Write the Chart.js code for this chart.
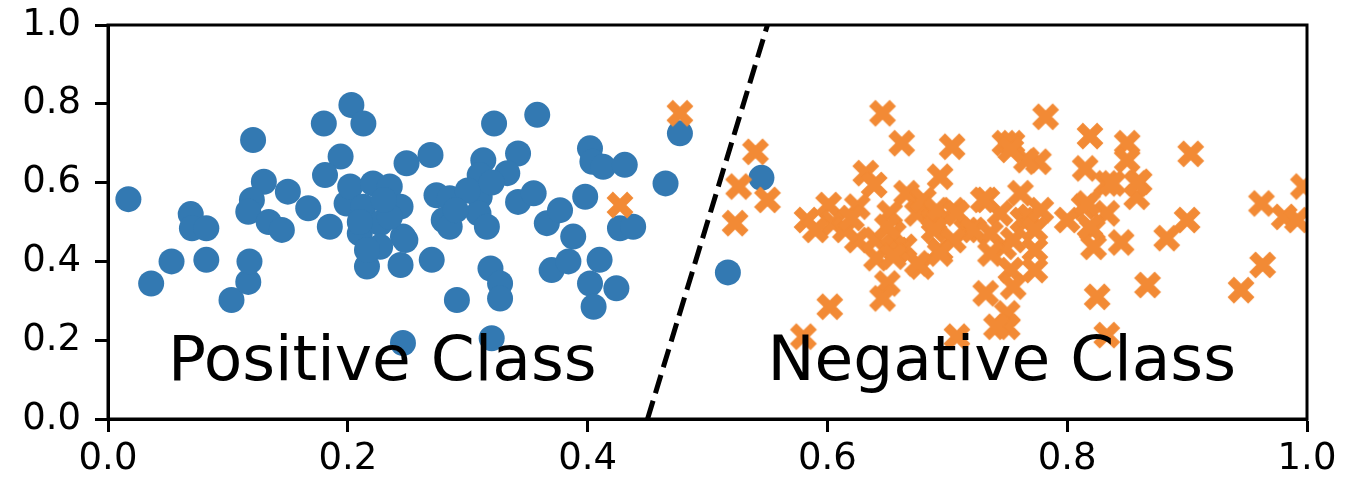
<!DOCTYPE html>
<html>
<head>
<meta charset="utf-8">
<script src="https://cdn.jsdelivr.net/npm/chart.js@4.4.1/dist/chart.umd.min.js"></script>
<style>
  body { margin: 0; background: #fff; }
  canvas { display: block; }
</style>
</head>
<body>
<canvas id="myChart" width="1362" height="480"></canvas>
<script>
// data
const positiveX = [0.017,0.036,0.053,0.069,0.070,0.082,0.082,0.103,0.117,0.118,0.121,0.130,0.120,0.117,0.134,0.145,0.150,0.167,0.185,0.180,0.203,0.213,0.194,0.181,0.216,0.244,0.199,0.246,
  0.202,0.221,0.235,0.244,0.213,0.210,0.227,0.246,0.227,0.216,0.235,0.210,0.230,0.249,0.269,0.270,
  0.322,0.358,0.342,0.313,0.310,0.333,0.402,0.404,0.413,0.431,0.465,0.477,0.398,0.427,0.438,0.248,0.274,0.285,0.280,0.285,0.310,0.309,0.316,
  0.342,0.355,0.366,0.377,0.388,0.370,0.384,0.410,0.402,0.424,0.405,0.319,0.327,0.327,0.291,0.320,0.300,0.320,0.290,0.517,0.545];
const positiveY = [0.558,0.344,0.400,0.520,0.484,0.484,0.404,0.302,0.348,0.400,0.708,0.602,0.556,0.526,0.500,0.480,0.577,0.535,0.488,0.750,0.797,0.750,0.666,0.619,0.387,0.391,0.547,0.193,
  0.590,0.598,0.590,0.539,0.539,0.471,0.497,0.463,0.437,0.429,0.513,0.500,0.556,0.649,0.670,0.404,
  0.750,0.772,0.674,0.657,0.619,0.624,0.687,0.653,0.640,0.645,0.598,0.725,0.564,0.484,0.488,0.454,0.568,0.560,0.505,0.488,0.564,0.522,0.488,
  0.551,0.573,0.497,0.530,0.463,0.378,0.400,0.404,0.344,0.332,0.285,0.382,0.344,0.306,0.302,0.205,0.580,0.600,0.530,0.372,0.612];

const negativeX = [0.477,0.427,0.540,0.526,0.550,0.523,
  0.646,0.662,0.704,0.632,0.639,0.694,0.583,0.601,0.605,0.625,0.625,0.641,0.650,0.646,0.602,0.580,0.666,0.675,0.689,0.664,0.678,0.694,0.705,0.716,0.733,0.744,0.747,0.732,0.708,0.748,
  0.782,0.754,0.776,0.819,0.815,0.850,0.850,0.903,0.833,0.860,0.858,0.833,0.814,0.800,0.821,0.822,0.845,0.900,0.883,0.962,0.981,0.992,0.997,0.963,0.945,0.867,0.825,0.833,0.750,0.750,0.763,
  0.652,0.680,0.691,0.708,0.722,0.689,0.705,0.694,0.675,0.658,0.730,0.761,0.769,0.736,0.755,0.736,0.753,0.755,0.741,0.766,0.753,
  0.838,0.858,0.817,0.778,0.773,0.773,0.773,0.819,0.590,0.615,0.640,0.655,0.620,0.650,0.655];
const negativeY = [0.776,0.543,0.678,0.590,0.556,0.497,
  0.776,0.700,0.691,0.624,0.594,0.615,0.505,0.543,0.497,0.539,0.454,0.408,0.344,0.306,0.285,0.209,0.573,0.522,0.505,0.437,0.387,0.429,0.530,0.480,0.556,0.522,0.437,0.319,0.209,0.700,
  0.767,0.700,0.653,0.718,0.636,0.700,0.657,0.673,0.598,0.602,0.564,0.522,0.539,0.505,0.480,0.437,0.448,0.505,0.459,0.547,0.513,0.505,0.590,0.391,0.327,0.340,0.310,0.213,0.268,0.234,0.505,
  0.522,0.556,0.530,0.522,0.480,0.480,0.454,0.420,0.395,0.429,0.556,0.573,0.513,0.471,0.454,0.420,0.378,0.336,0.234,0.657,0.683,
  0.598,0.598,0.547,0.530,0.480,0.429,0.378,0.488,0.480,0.480,0.455,0.470,0.510,0.488,0.412];

const boundaryX = [0.45, 0.55];
const boundaryY = [0.0, 1.0];

const tickValues = [0, 0.2, 0.4, 0.6, 0.8, 1.0];
const classLabels = ['Positive Class', 'Negative Class'];
const classLabelX = [0.05, 0.55];
const classLabelY = [0.1, 0.1];

const blue = '#3379b2';
const orange = '#f28a35';
const font = '"DejaVu Sans", sans-serif';

function toPoints(xs, ys) {
  return xs.map((x, i) => ({ x: x, y: ys[i] }));
}

// filled X marker like matplotlib
function makeCross(color) {
  const c = document.createElement('canvas');
  c.width = 30;
  c.height = 30;
  const g = c.getContext('2d');
  g.strokeStyle = color;
  g.lineWidth = 9;
  g.lineCap = 'butt';
  const a = 10.3;
  g.beginPath();
  g.moveTo(15 - a, 15 - a); g.lineTo(15 + a, 15 + a);
  g.moveTo(15 + a, 15 - a); g.lineTo(15 - a, 15 + a);
  g.stroke();
  return c;
}

const framePlugin = {
  id: 'frame',
  afterDatasetsDraw(chart) {
    const ctx = chart.ctx;
    const area = chart.chartArea;
    const xs = chart.scales.x;
    const ys = chart.scales.y;
    ctx.save();
    ctx.fillStyle = '#000';
    ctx.font = '63px ' + font;
    ctx.textAlign = 'left';
    ctx.textBaseline = 'alphabetic';
    classLabels.forEach((t, i) => {
      ctx.fillText(t, xs.getPixelForValue(classLabelX[i]), ys.getPixelForValue(classLabelY[i]));
    });
    ctx.strokeStyle = '#000';
    ctx.lineWidth = 3;
    ctx.strokeRect(area.left, area.top, area.right - area.left, area.bottom - area.top);
    ctx.restore();
  }
};

const ctx = document.getElementById('myChart');

new Chart(ctx, {
  type: 'scatter',
  data: {
    datasets: [
      {
        type: 'line',
        data: toPoints(boundaryX, boundaryY),
        borderColor: '#000',
        borderWidth: 5,
        borderDash: [19, 8],
        pointRadius: 0,
        fill: false,
        order: 0
      },
      {
        data: toPoints(negativeX, negativeY),
        pointStyle: makeCross(orange),
        pointRadius: 14,
        backgroundColor: orange,
        borderWidth: 0,
        order: 1
      },
      {
        data: toPoints(positiveX, positiveY),
        pointStyle: 'circle',
        pointRadius: 13,
        backgroundColor: blue,
        borderWidth: 0,
        order: 2
      }
    ]
  },
  options: {
    responsive: false,
    animation: false,
    layout: { padding: { top: 25, right: 55, left: 0, bottom: 0 } },
    plugins: { legend: { display: false }, tooltip: { enabled: false } },
    scales: {
      x: {
        type: 'linear',
        min: 0,
        max: 1,
        afterBuildTicks: (scale) => { scale.ticks = tickValues.map(v => ({ value: v })); },
        afterFit: (scale) => {
          scale.height = 61;
          scale.paddingLeft = 0;
          scale.paddingRight = 0;
        },
        grid: { drawOnChartArea: false, drawTicks: true, tickLength: 13, tickWidth: 3, tickColor: '#000' },
        border: { color: '#000', width: 3 },
        ticks: {
          color: '#000',
          padding: 5,
          font: { family: font, size: 37 },
          callback: (v) => v.toFixed(1)
        }
      },
      y: {
        type: 'linear',
        min: 0,
        max: 1,
        afterBuildTicks: (scale) => { scale.ticks = tickValues.map(v => ({ value: v })); },
        afterFit: (scale) => {
          scale.width = 108;
          scale.paddingTop = 0;
          scale.paddingBottom = 0;
        },
        grid: { drawOnChartArea: false, drawTicks: true, tickLength: 13, tickWidth: 3, tickColor: '#000' },
        border: { color: '#000', width: 3 },
        ticks: {
          color: '#000',
          padding: 14,
          font: { family: font, size: 37 },
          callback: (v) => v.toFixed(1)
        }
      }
    }
  },
  plugins: [framePlugin]
});
</script>
</body>
</html>
